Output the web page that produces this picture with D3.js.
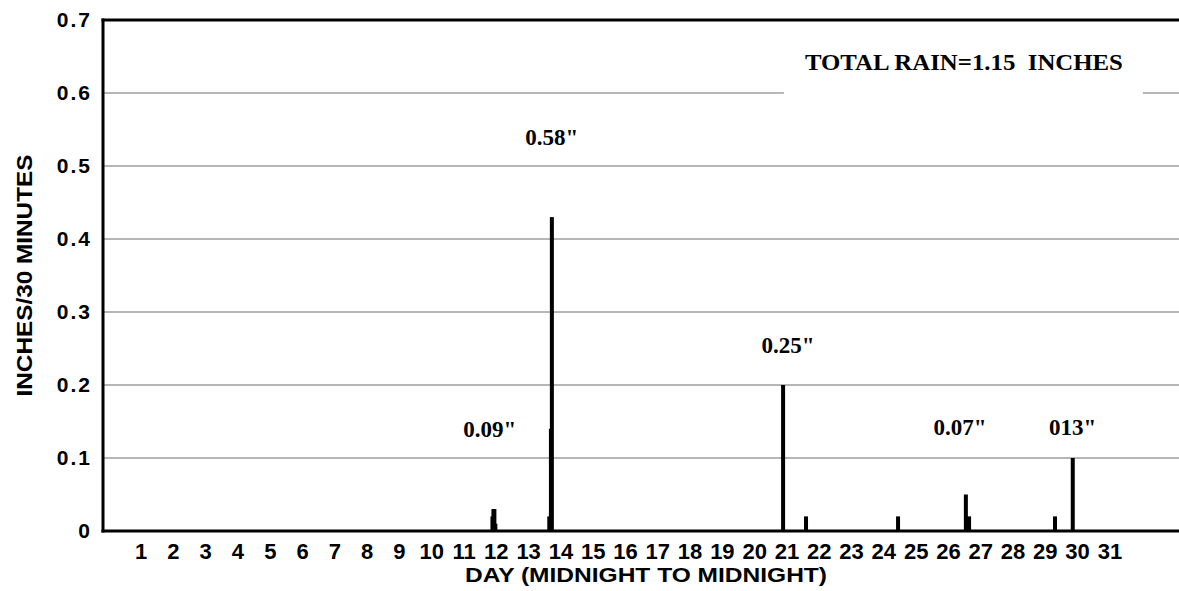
<!DOCTYPE html>
<html>
<head>
<meta charset="utf-8">
<script src="https://cdn.jsdelivr.net/npm/d3@7"></script>
<style>
  html, body { margin: 0; padding: 0; background: #fff; }
  svg { display: block; }
  .tick-label { font-family: "Liberation Sans", Arial, sans-serif; font-weight: bold; fill: #000; }
  .axis-title { font-family: "Liberation Sans", Arial, sans-serif; font-weight: bold; fill: #000; }
  .note { font-family: "Liberation Serif", "Times New Roman", serif; font-weight: bold; fill: #000; white-space: pre; }
</style>
</head>
<body>
<svg id="chart" width="1179" height="591"></svg>
<script>
// day labels along the bottom
const dayLabels = d3.range(1, 32);
// y tick values (inches per 30 minutes)
const yTicks = [0, 0.1, 0.2, 0.3, 0.4, 0.5, 0.6, 0.7];

// half-hour rain readings: time in days (fractional) and amount in inches
const rainTime = [11.88, 11.91, 11.94, 11.97, 13.64, 13.69, 13.72, 20.88, 21.59, 24.44, 26.54, 26.64, 29.30, 29.85];
const rainInches = [0.02, 0.03, 0.03, 0.01, 0.02, 0.14, 0.43, 0.20, 0.02, 0.02, 0.05, 0.02, 0.02, 0.10];

// storm totals written above the spikes
const noteText = ['0.09"', '0.58"', '0.25"', '0.07"', '013"'];
const noteDay = [11.8, 13.72, 21.03, 26.36, 29.85];
const noteLevel = [0.129, 0.529, 0.244, 0.132, 0.132];

const totalText = 'TOTAL RAIN=1.15  INCHES';

const svg = d3.select('#chart');
const margin = { top: 20, right: 0, bottom: 60, left: 103 };
const width = 1179 - margin.left - margin.right;
const height = 591 - margin.top - margin.bottom;

const g = svg.append('g').attr('transform', `translate(${margin.left},${margin.top})`);

const x = d3.scaleLinear().domain([-0.18, 33.14]).range([0, width]);
const y = d3.scaleLinear().domain([0, 0.7]).range([height, 0]);

// horizontal grid
g.selectAll('.grid')
  .data(yTicks.filter(d => d > 0 && d < 0.7))
  .enter().append('line')
  .attr('class', 'grid')
  .attr('x1', 0).attr('x2', width)
  .attr('y1', d => y(d)).attr('y2', d => y(d))
  .attr('stroke', '#6e6e6e')
  .attr('stroke-width', 1);

// total label with a white box that breaks the 0.6 line
const totalG = g.append('g');
const totalLabel = totalG.append('text')
  .attr('class', 'note')
  .attr('x', x(26.48))
  .attr('y', y(0.632))
  .attr('text-anchor', 'middle')
  .style('font-size', '24px')
  .attr('textLength', 318)
  .attr('lengthAdjust', 'spacingAndGlyphs')
  .text(totalText);
const tb = totalLabel.node().getBBox();
totalG.insert('rect', 'text')
  .attr('x', tb.x - 21)
  .attr('y', 2)
  .attr('width', tb.width + 41)
  .attr('height', y(0.6) - 2 + 3)
  .attr('fill', '#fff');

// rain bars
g.selectAll('.bar')
  .data(rainTime.map((t, i) => ({ t, v: rainInches[i] })))
  .enter().append('rect')
  .attr('class', 'bar')
  .attr('x', d => x(d.t) - 2)
  .attr('width', 4)
  .attr('y', d => y(d.v))
  .attr('height', d => y(0) - y(d.v))
  .attr('fill', '#000');

// storm notes
g.selectAll('.storm')
  .data(noteText.map((s, i) => ({ s, d: noteDay[i], v: noteLevel[i] })))
  .enter().append('text')
  .attr('class', 'note')
  .attr('x', d => x(d.d))
  .attr('y', d => y(d.v))
  .attr('text-anchor', 'middle')
  .style('font-size', '23px')
  .text(d => d.s);

// frame: left, top and bottom lines
g.append('line').attr('x1', 0).attr('x2', 0).attr('y1', -1.5).attr('y2', height + 1.5)
  .attr('stroke', '#000').attr('stroke-width', 3);
g.append('line').attr('x1', -1.5).attr('x2', width).attr('y1', 0).attr('y2', 0)
  .attr('stroke', '#000').attr('stroke-width', 3);
g.append('line').attr('x1', -1.5).attr('x2', width).attr('y1', height).attr('y2', height)
  .attr('stroke', '#000').attr('stroke-width', 3);

// y tick labels
g.selectAll('.ylab')
  .data(yTicks)
  .enter().append('text')
  .attr('class', 'tick-label')
  .attr('x', -11)
  .attr('y', d => y(d))
  .attr('dy', '0.35em')
  .attr('text-anchor', 'end')
  .style('font-size', '21px')
  .style('letter-spacing', '2px')
  .text(d => d === 0 ? '0' : d3.format('.1f')(d));

// x tick labels
g.selectAll('.xlab')
  .data(dayLabels)
  .enter().append('text')
  .attr('class', 'tick-label')
  .attr('x', d => x(d))
  .attr('y', height + 28)
  .attr('text-anchor', 'middle')
  .style('font-size', '22px')
  .text(d => d);

// axis titles
g.append('text')
  .attr('class', 'axis-title')
  .attr('x', 543)
  .attr('y', height + 51)
  .attr('text-anchor', 'middle')
  .style('font-size', '21px')
  .attr('textLength', 362)
  .attr('lengthAdjust', 'spacingAndGlyphs')
  .text('DAY (MIDNIGHT TO MIDNIGHT)');

g.append('text')
  .attr('class', 'axis-title')
  .attr('transform', `translate(${-71},${height / 2}) rotate(-90)`)
  .attr('text-anchor', 'middle')
  .style('font-size', '22px')
  .attr('textLength', 242)
  .attr('lengthAdjust', 'spacingAndGlyphs')
  .text('INCHES/30 MINUTES');
</script>
</body>
</html>
